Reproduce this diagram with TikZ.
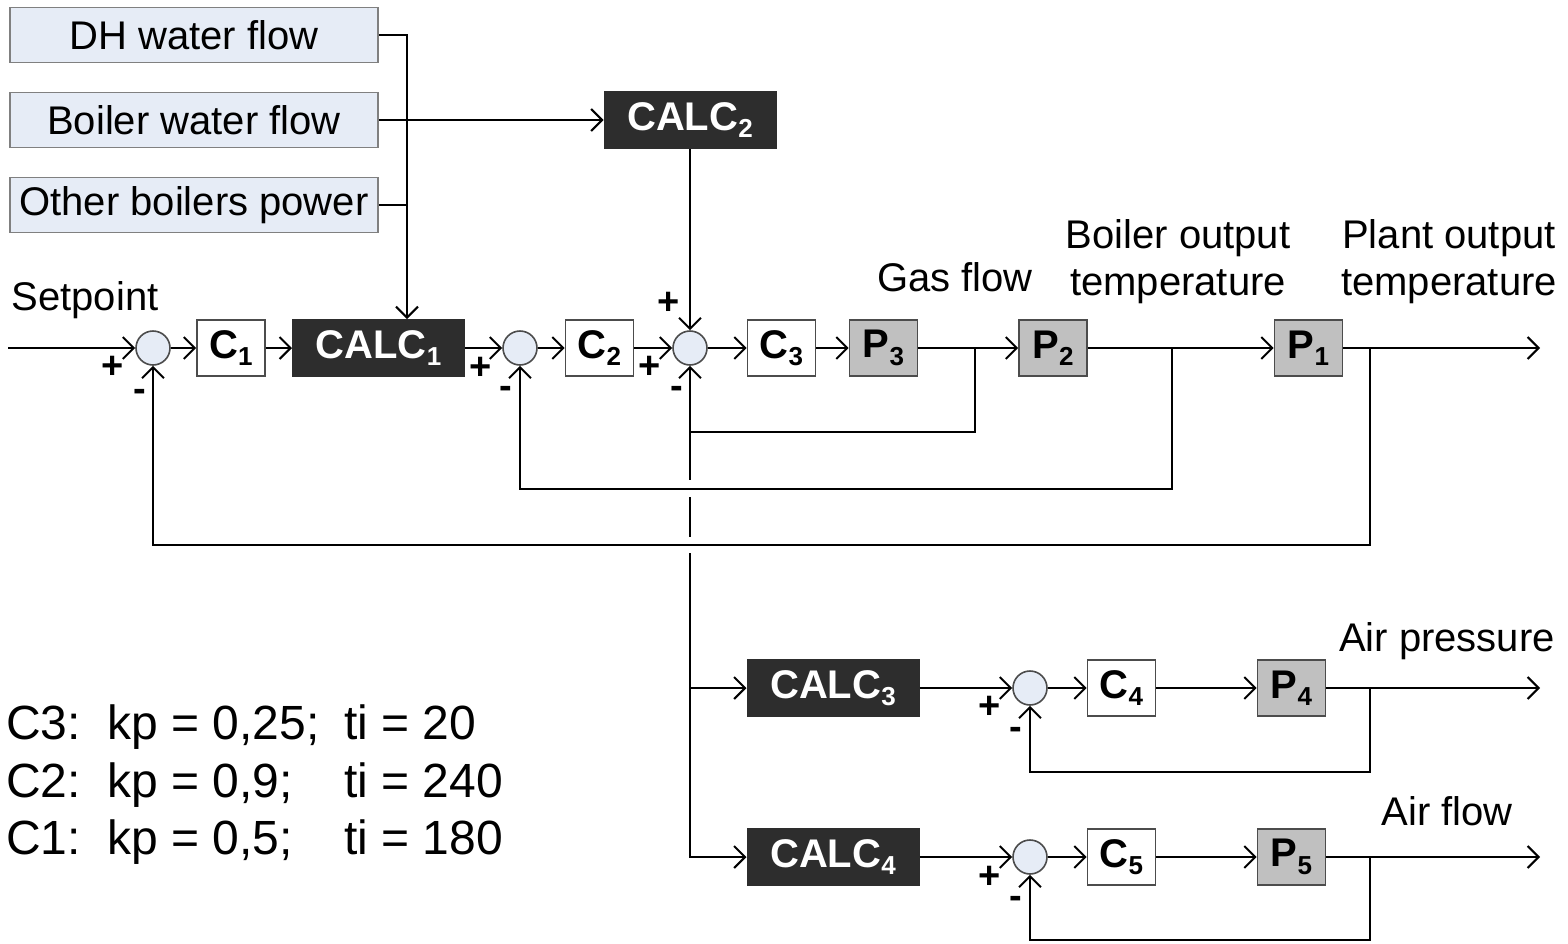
\documentclass[tikz,border=0pt]{standalone}
\usepackage{fontspec}
\setmainfont{Liberation Sans}
\usetikzlibrary{arrows.meta}
\definecolor{inputfill}{HTML}{E6ECF6}
\definecolor{calcfill}{HTML}{2D2D2D}
\definecolor{plantfill}{HTML}{C0C0C0}
\newcommand{\lowidx}[1]{\raisebox{-0.35ex}{\fontsize{13}{13}\selectfont #1}}
\begin{document}
\begin{tikzpicture}[x=0.5pt,y=-0.5pt,line width=1pt,>={Straight Barb[length=5.5pt,width=11pt]},
  every node/.style={font=\fontsize{20}{23.5}\selectfont, inner sep=0pt},
  inputbox/.style={draw=gray, fill=inputfill, line width=0.8pt, minimum width=184pt, minimum height=27.5pt},
  blockbox/.style={draw=black!70, fill=white, line width=0.8pt, minimum width=34pt, minimum height=28pt, font=\fontsize{20}{24}\selectfont\bfseries},
  plantbox/.style={blockbox, fill=plantfill},
  calcbox/.style={draw=calcfill, fill=calcfill, text=white, minimum width=85.5pt, minimum height=28pt, font=\fontsize{20}{24}\selectfont\bfseries},
  sumnode/.style={circle, draw=black!70, fill=inputfill, line width=0.8pt, minimum size=17pt},
  sign/.style={font=\fontsize{19}{19}\selectfont\bfseries},
  lbl/.style={align=center},
  tune/.style={anchor=base west, font=\fontsize{24}{28}\selectfont}]
\useasboundingbox (0,0) rectangle (1568,943);
% inputs
\node[inputbox] (dh) at (194,35) {DH water flow};
\node[inputbox] (bw) at (194,120) {Boiler water flow};
\node[inputbox] (ob) at (194,205) {Other boilers power};
\node[calcbox] (calc2) at (690,120) {CALC\lowidx{2}};
% main loop
\coordinate (in) at (8,348);
\node[sumnode] (s1) at (153,348) {};
\node[blockbox] (c1) at (231,348) {C\lowidx{1}};
\node[calcbox] (calc1) at (378.5,348) {CALC\lowidx{1}};
\node[sumnode] (s2) at (520,348) {};
\node[blockbox] (c2) at (599.5,348) {C\lowidx{2}};
\node[sumnode] (s3) at (690,348) {};
\node[blockbox] (c3) at (781.5,348) {C\lowidx{3}};
\node[plantbox] (p3) at (883.5,348) {P\lowidx{3}};
\node[plantbox] (p2) at (1053,348) {P\lowidx{2}};
\node[plantbox] (p1) at (1308.5,348) {P\lowidx{1}};
\coordinate (out1) at (1540,348);
% lower loops
\node[calcbox] (calc3) at (833,688) {CALC\lowidx{3}};
\node[sumnode] (s4) at (1030,688) {};
\node[blockbox] (c4) at (1121.5,688) {C\lowidx{4}};
\node[plantbox] (p4) at (1291.5,688) {P\lowidx{4}};
\coordinate (out4) at (1540,688);
\node[calcbox] (calc4) at (833,857) {CALC\lowidx{4}};
\node[sumnode] (s5) at (1030,857) {};
\node[blockbox] (c5) at (1121.5,857) {C\lowidx{5}};
\node[plantbox] (p5) at (1291.5,857) {P\lowidx{5}};
\coordinate (out5) at (1540,857);
% labels
\node[lbl] (setp) at (85,300) {Setpoint};
\node[lbl] (gas) at (955,277) {Gas flow};
\node[lbl] (bot) at (1178,262) {Boiler output\\temperature};
\node[lbl] (pot) at (1449,262) {Plant output\\temperature};
\node[lbl] (airp) at (1447,641) {Air pressure};
\node[lbl] (airf) at (1447,811) {Air flow};
% signs
\node[sign] at (113,367) {+};
\node[sign] at (140,395) {-};
\node[sign] at (481,368) {+};
\node[sign] at (506,392) {-};
\node[sign] at (669,303) {+};
\node[sign] at (650,367) {+};
\node[sign] at (677,392) {-};
\node[sign] at (990,707) {+};
\node[sign] at (1016,733) {-};
\node[sign] at (990,877) {+};
\node[sign] at (1016,902) {-};
% forward path
\draw[->] (in) -- (s1);
\draw[->] (s1) -- (c1);
\draw[->] (c1) -- (calc1);
\draw[->] (calc1) -- (s2);
\draw[->] (s2) -- (c2);
\draw[->] (c2) -- (s3);
\draw[->] (s3) -- (c3);
\draw[->] (c3) -- (p3);
\draw[->] (p3) -- (p2);
\draw[->] (p2) -- (p1);
\draw[->] (p1) -- (out1);
% inputs to calc
\coordinate (j1) at (407,35);
\draw[->] (dh.east) -- (j1) -- (calc1.north -| j1);
\draw (ob.east) -- (ob.east -| j1);
\draw[->] (bw.east) -- (calc2.west);
\draw[->] (calc2.south) -- (s3.north);
% feedbacks
\coordinate (b3) at (975,348);
\coordinate (f3) at (690,432);
\draw[->] (b3) |- (f3) -- (s3.south);
\coordinate (b2) at (1172,348);
\draw[->] (b2) -- (1172,489) -| (s2.south);
\coordinate (b1) at (1370,348);
\draw[->] (b1) -- (1370,545) -| (s1.south);
% gas flow to lower loops
\draw (f3) -- (690,480);
\draw (690,497) -- (690,537);
\coordinate (j3) at (690,688);
\draw[->] (690,553) |- (calc4.west);
\draw[->] (j3) -- (calc3.west);
% air pressure loop
\draw[->] (calc3) -- (s4);
\draw[->] (s4) -- (c4);
\draw[->] (c4) -- (p4);
\draw[->] (p4) -- (out4);
\coordinate (b4) at (1370,688);
\draw[->] (b4) -- (1370,772) -| (s4.south);
% air flow loop
\draw[->] (calc4) -- (s5);
\draw[->] (s5) -- (c5);
\draw[->] (c5) -- (p5);
\draw[->] (p5) -- (out5);
\coordinate (b5) at (1370,857);
\draw[->] (b5) -- (1370,940) -| (s5.south);
% tuning
\node[tune] (k3) at (5,739) {C3:\ \ kp = 0,25;};
\node[tune] (t3) at (343,739) {ti = 20};
\node[tune] (k2) at (5,797) {C2:\ \ kp = 0,9;};
\node[tune] (t2) at (343,797) {ti = 240};
\node[tune] (k1) at (5,854) {C1:\ \ kp = 0,5;};
\node[tune] (t1) at (343,854) {ti = 180};
\end{tikzpicture}
\end{document}
